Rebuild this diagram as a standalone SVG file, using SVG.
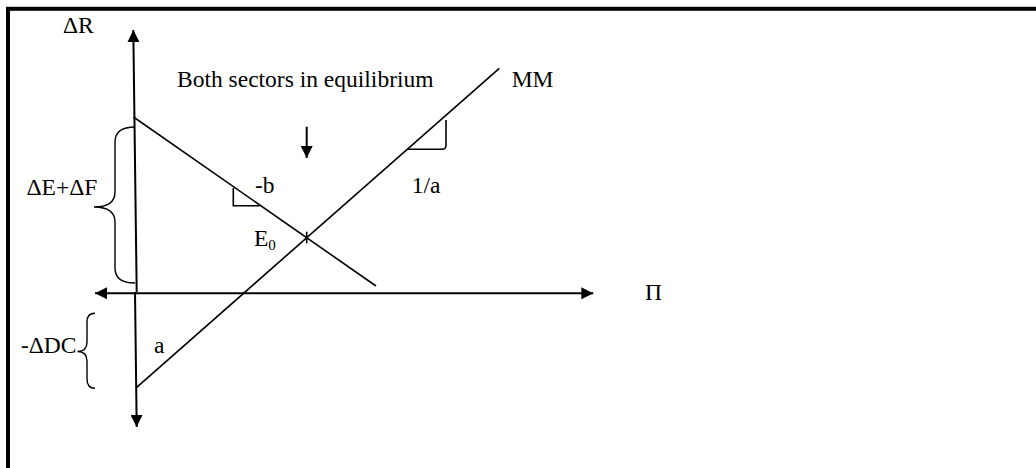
<svg xmlns="http://www.w3.org/2000/svg" width="1036" height="468" viewBox="0 0 1036 468">
<style>
  text { font-family: "Liberation Serif", "Times New Roman", serif; font-size: 23.5px; fill: #000; }
  .ax { stroke: #000; stroke-width: 2; fill: none; }
  .ln { stroke: #000; stroke-width: 1.6; fill: none; }
  .br { stroke: #000; stroke-width: 1.4; fill: none; }
</style>
<defs>
  <marker id="ah" viewBox="0 0 12 12" refX="12" refY="6" markerWidth="12" markerHeight="12" markerUnits="userSpaceOnUse" orient="auto">
    <path d="M0,0 L12,6 L0,12 Z" fill="#000"/>
  </marker>
</defs>
<rect x="8" y="8.8" width="1200" height="700" fill="#fff" stroke="#000" stroke-width="4"/>

<g id="connectors">
  <line class="ax" x1="136.7" y1="292" x2="133.3" y2="30" marker-end="url(#ah)"/>
  <line class="ax" x1="135" y1="292" x2="136.7" y2="427" marker-end="url(#ah)"/>
  <line class="ax" x1="300" y1="293.3" x2="95" y2="293.3" marker-end="url(#ah)"/>
  <line class="ax" x1="300" y1="293.3" x2="593.3" y2="293.3" marker-end="url(#ah)"/>
  <line class="ax" x1="306.7" y1="126.7" x2="306.7" y2="158" marker-end="url(#ah)"/>
</g>

<g id="line-b">
  <line class="ln" x1="133.5" y1="117" x2="376" y2="286"/>
  <path class="ln" d="M233.3,188 V205.7 H260"/>
  <text x="255" y="193.3">-b</text>
</g>

<g id="line-MM">
  <line class="ln" x1="136.7" y1="387.3" x2="499.3" y2="68.3"/>
  <path class="ln" d="M408,149.3 H442 Q446,149.3 446,145.3 V120"/>
  <text x="511.7" y="86.7">MM</text>
  <text x="411.7" y="192.7">1/a</text>
  <text x="154" y="353">a</text>
</g>

<g id="E0">
  <line class="ln" x1="306.7" y1="231.7" x2="306.7" y2="243.3"/>
  <text x="254" y="246">E<tspan font-size="15" dy="3.5">0</tspan></text>
</g>

<g id="brace-top">
  <path class="br" d="M135,127 Q115,127 115,142 V192 Q115,207 94,207 Q115,207 115,222 V268 Q115,283 135,283"/>
  <text x="26.5" y="195">ΔE+ΔF</text>
</g>

<g id="brace-bottom">
  <path class="br" d="M95,313.3 Q87,313.3 87,322 V342 Q87,351.5 77.5,351.5 Q87,351.5 87,361 V379 Q87,388.3 95,388.3"/>
  <text x="76.5" y="353.3" text-anchor="end">-ΔDC</text>
</g>

<g id="labels">
  <text x="63" y="33">ΔR</text>
  <text x="177" y="87">Both sectors in equilibrium</text>
  <text x="645" y="300">Π</text>
</g>
</svg>
